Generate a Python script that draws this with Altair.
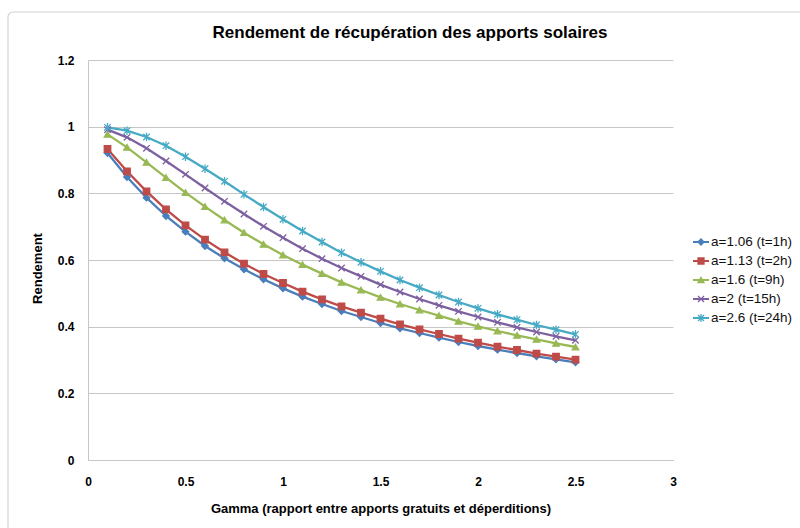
import altair as alt
import pandas as pd

gamma = [0.1, 0.2, 0.3, 0.4, 0.5, 0.6, 0.7, 0.8, 0.9, 1.0, 1.1, 1.2, 1.3,
         1.4, 1.5, 1.6, 1.7, 1.8, 1.9, 2.0, 2.1, 2.2, 2.3, 2.4, 2.5]

series_labels = ["a=1.06 (t=1h)", "a=1.13 (t=2h)", "a=1.6 (t=9h)",
                 "a=2 (t=15h)", "a=2.6 (t=24h)"]

eta_a106 = [0.921, 0.849, 0.787, 0.732, 0.685, 0.642, 0.605, 0.572, 0.542,
            0.515, 0.490, 0.468, 0.447, 0.429, 0.411, 0.395, 0.381, 0.367,
            0.354, 0.342, 0.331, 0.321, 0.311, 0.302, 0.293]
eta_a113 = [0.933, 0.866, 0.806, 0.752, 0.704, 0.661, 0.623, 0.589, 0.558,
            0.531, 0.505, 0.482, 0.461, 0.442, 0.424, 0.407, 0.392, 0.378,
            0.364, 0.352, 0.340, 0.330, 0.319, 0.310, 0.301]
eta_a16 = [0.977, 0.938, 0.893, 0.847, 0.802, 0.760, 0.720, 0.682, 0.647,
           0.615, 0.586, 0.559, 0.533, 0.510, 0.488, 0.468, 0.450, 0.433,
           0.416, 0.401, 0.387, 0.374, 0.362, 0.350, 0.339]
eta_a2 = [0.991, 0.968, 0.935, 0.897, 0.857, 0.816, 0.776, 0.738, 0.701,
          0.667, 0.634, 0.604, 0.576, 0.551, 0.526, 0.504, 0.483, 0.464,
          0.446, 0.429, 0.413, 0.398, 0.384, 0.371, 0.359]
eta_a26 = [0.998, 0.988, 0.969, 0.943, 0.910, 0.874, 0.836, 0.797, 0.759,
           0.722, 0.687, 0.654, 0.622, 0.593, 0.566, 0.540, 0.517, 0.495,
           0.474, 0.455, 0.437, 0.421, 0.405, 0.391, 0.377]

all_series = [eta_a106, eta_a113, eta_a16, eta_a2, eta_a26]

colors = ["#4A7EBB", "#BE4B48", "#98B954", "#7D60A0", "#46AAC5"]
shapes = ["diamond", "square", "triangle-up",
          "M-1,-1L1,1M-1,1L1,-1",
          "M-1,-1L1,1M-1,1L1,-1M0,-1.3L0,1.3"]

x_ticks = [0, 0.5, 1, 1.5, 2, 2.5, 3]
y_ticks = [0, 0.2, 0.4, 0.6, 0.8, 1, 1.2]

rows = []
for lab, vals in zip(series_labels, all_series):
    for g, v in zip(gamma, vals):
        rows.append({"gamma": g, "eta": v, "series": lab})
df = pd.DataFrame(rows)
legend_df = pd.DataFrame({"series": series_labels,
                          "idx": list(range(len(series_labels)))})

FONT = "Liberation Sans"
GRID = "#C6C6C6"

color_scale = alt.Scale(domain=series_labels, range=colors)
shape_scale = alt.Scale(domain=series_labels, range=shapes)

x_enc = alt.X("gamma:Q", scale=alt.Scale(domain=[0, 3], nice=False),
              axis=alt.Axis(values=x_ticks, format="~g", grid=False, ticks=False,
                            domainColor=GRID, labelPadding=16, labelFlush=False,
                            labelFont=FONT, labelFontSize=12, labelFontWeight="bold",
                            labelColor="#000000",
                            title="Gamma (rapport  entre  apports gratuits et déperditions)",
                            titleFont=FONT, titleFontSize=13, titleFontWeight="bold",
                            titleColor="#000000", titleY=48, titleBaseline="middle"))
y_enc = alt.Y("eta:Q", scale=alt.Scale(domain=[0, 1.2], nice=False),
              axis=alt.Axis(values=y_ticks, format="~g", grid=True, gridColor=GRID,
                            ticks=False, domainColor=GRID, labelPadding=14,
                            labelFont=FONT, labelFontSize=12, labelFontWeight="bold",
                            labelColor="#000000",
                            title="Rendement", titleFont=FONT, titleFontSize=13,
                            titleFontWeight="bold", titleColor="#000000",
                            titleX=-51, titleY=208, titleBaseline="middle",
                            titleAngle=270))

frame = alt.Chart(pd.DataFrame({"k": [0]})).mark_rect(
    filled=False, stroke="#D4D4D4", strokeWidth=1.2, cornerRadius=5
).encode(x=alt.value(-80), x2=alt.value(760), y=alt.value(-48), y2=alt.value(500))

title_df = pd.DataFrame({"t": ["Rendement de récupération des apports solaires"]})
title_mark = alt.Chart(title_df).mark_text(
    font=FONT, fontSize=17, fontWeight="bold", color="#000000",
    align="center", baseline="middle"
).encode(x=alt.value(322), y=alt.value(-27), text="t:N")

base = alt.Chart(df)
lines = base.mark_line(strokeWidth=2.3).encode(
    x=x_enc, y=y_enc,
    color=alt.Color("series:N", scale=color_scale, legend=None),
)
points = base.mark_point(filled=True, size=42, strokeWidth=1.3, opacity=1).encode(
    x="gamma:Q", y="eta:Q",
    color=alt.Color("series:N", scale=color_scale, legend=None),
    stroke=alt.Stroke("series:N", scale=color_scale, legend=None),
    shape=alt.Shape("series:N", scale=shape_scale, legend=None),
)

leg_y = alt.Y("idx:Q", scale=alt.Scale(domain=[0, 4], range=[182, 258], nice=False, zero=False),
              axis=None)
leg_base = alt.Chart(legend_df)
leg_lines = leg_base.mark_rule(strokeWidth=2).encode(
    x=alt.value(605), x2=alt.value(621), y=leg_y,
    color=alt.Color("series:N", scale=color_scale, legend=None),
)
leg_pts = leg_base.mark_point(filled=True, size=36, strokeWidth=1.3, opacity=1).encode(
    x=alt.value(613), y=leg_y,
    color=alt.Color("series:N", scale=color_scale, legend=None),
    stroke=alt.Stroke("series:N", scale=color_scale, legend=None),
    shape=alt.Shape("series:N", scale=shape_scale, legend=None),
)
leg_text = leg_base.mark_text(align="left", baseline="middle", font=FONT,
                              fontSize=13.5, color="#111111").encode(
    x=alt.value(623), y=leg_y, text="series:N",
)

main = alt.layer(lines, points)
legend = alt.layer(leg_lines, leg_pts, leg_text)

chart = alt.layer(frame, title_mark, main, legend).resolve_scale(y="independent").properties(
    width=585, height=400,
    autosize=alt.AutoSizeParams(type="none"),
    padding={"left": 88, "top": 60, "right": 127, "bottom": 68},
    background="white",
).configure_view(stroke=None)

chart.save("out.html", embed_options={"renderer": "svg", "actions": False})
